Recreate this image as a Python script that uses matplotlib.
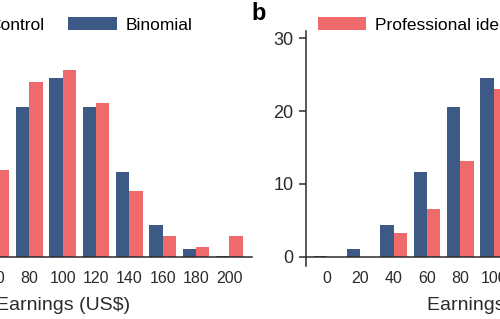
import matplotlib
matplotlib.use("Agg")
import matplotlib.pyplot as plt
import numpy as np

plt.rcParams['font.family'] = ['Liberation Sans', 'DejaVu Sans']

earnings = [0, 20, 40, 60, 80, 100, 120, 140, 160, 180, 200]
binomial = [0.1, 1.0, 4.4, 11.7, 20.6, 24.6, 20.6, 11.7, 4.4, 1.0, 0.1]
control = [0.0, 0.0, 1.0, 11.9, 24.0, 25.7, 21.1, 9.0, 2.9, 1.4, 2.9]
prof_identity = [0.0, 0.0, 3.3, 6.5, 13.2, 23.1, 19.0, 13.0, 8.5, 6.0, 7.4]
yticks = [0, 10, 20, 30]

blue = '#3d5a87'
red = '#ef6a6b'
dark = '#2b2b2b'

W, H = 500, 319
fig = plt.figure(figsize=(W / 100, H / 100), dpi=100)

def px_axes(x0, x1, ytop, ybot):
    return fig.add_axes([x0 / W, 1 - ybot / H, (x1 - x0) / W, (ybot - ytop) / H])

def panel(ax, red_vals, red_label):
    x = np.array(earnings)
    bw = 8
    ax.bar(x - bw / 2, binomial, width=bw, color=blue, label='Binomial')
    ax.bar(x + bw / 2, red_vals, width=bw, color=red, label=red_label)
    ax.set_xlim(-12.5, 213.5)
    ax.set_ylim(-1.2, 31)
    ax.spines['top'].set_visible(False)
    ax.spines['right'].set_visible(False)
    ax.spines['bottom'].set_position(('data', 0))
    for s in ('left', 'bottom'):
        ax.spines[s].set_color(dark)
        ax.spines[s].set_linewidth(1.1)
    ax.set_xticks(earnings)
    ax.set_yticks(yticks)
    ax.tick_params(axis='x', length=0, pad=10, labelsize=11.5, colors=dark)
    ax.tick_params(axis='y', length=5, width=1.1, pad=4, labelsize=13, colors=dark)
    ax.set_xlabel('Earnings (US$)', fontsize=14, color=dark, labelpad=8)
    ax.patch.set_alpha(0)

ax1 = px_axes(-125, 252, 31, 265.5)
panel(ax1, control, 'Control')
ax2 = px_axes(306, 683, 31, 265.5)
panel(ax2, prof_identity, 'Professional identity')

for ax, x0 in ((ax1, -78), (ax2, 309)):
    h, l = ax.get_legend_handles_labels()
    ax.legend(h[::-1], l[::-1], ncol=2, frameon=False, fontsize=12.5,
              loc='center left', bbox_to_anchor=(x0 / W, 1 - 25 / H),
              bbox_transform=fig.transFigure, borderpad=0,
              handlelength=2.8, handleheight=0.8, handletextpad=0.5,
              columnspacing=1.4)

fig.text(251 / W, 1 - 2 / H, 'b', fontsize=17, fontweight='heavy',
         va='top', ha='left', color='black')

fig.savefig('out.png', dpi=100)
